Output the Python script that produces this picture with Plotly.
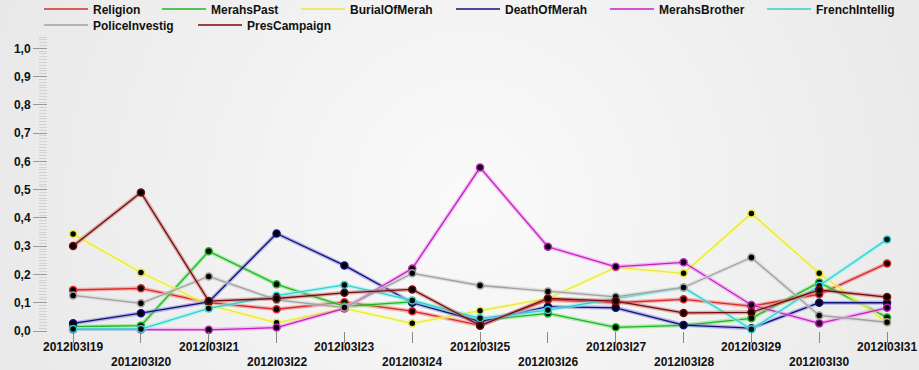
import plotly.graph_objects as go
import urllib.parse

dates = ["2012I03I19", "2012I03I20", "2012I03I21", "2012I03I22", "2012I03I23",
         "2012I03I24", "2012I03I25", "2012I03I26", "2012I03I27", "2012I03I28",
         "2012I03I29", "2012I03I30", "2012I03I31"]

religion = [0.145, 0.151, 0.100, 0.077, 0.102, 0.070, 0.020, 0.110, 0.100, 0.112, 0.088, 0.130, 0.239]
merahs_past = [0.015, 0.019, 0.282, 0.165, 0.087, 0.103, 0.038, 0.062, 0.013, 0.020, 0.045, 0.172, 0.048]
burial_of_merah = [0.343, 0.207, 0.092, 0.029, 0.080, 0.027, 0.072, 0.115, 0.225, 0.204, 0.416, 0.204, 0.030]
death_of_merah = [0.027, 0.063, 0.103, 0.345, 0.232, 0.100, 0.033, 0.086, 0.082, 0.021, 0.010, 0.100, 0.100]
merahs_brother = [0.005, 0.005, 0.004, 0.012, 0.080, 0.221, 0.578, 0.298, 0.227, 0.243, 0.092, 0.027, 0.082]
french_intellig = [0.007, 0.007, 0.080, 0.125, 0.163, 0.108, 0.045, 0.074, 0.115, 0.154, 0.006, 0.160, 0.324]
police_investig = [0.126, 0.098, 0.193, 0.110, 0.083, 0.204, 0.161, 0.140, 0.121, 0.154, 0.260, 0.055, 0.031]
pres_campaign = [0.301, 0.490, 0.106, 0.115, 0.135, 0.147, 0.019, 0.115, 0.106, 0.064, 0.066, 0.145, 0.120]

series = [
    ("Religion", religion, "#dc2828", "rgba(240,120,120,0.55)"),
    ("MerahsPast", merahs_past, "#22b422", "rgba(120,230,120,0.55)"),
    ("BurialOfMerah", burial_of_merah, "#e8e838", "rgba(250,250,150,0.6)"),
    ("DeathOfMerah", death_of_merah, "#10107a", "rgba(120,120,220,0.5)"),
    ("MerahsBrother", merahs_brother, "#c020c0", "rgba(240,140,240,0.55)"),
    ("FrenchIntellig", french_intellig, "#30d0d0", "rgba(150,240,240,0.6)"),
    ("PoliceInvestig", police_investig, "#a0a0a0", "rgba(210,210,210,0.6)"),
    ("PresCampaign", pres_campaign, "#7a0a0a", "rgba(190,110,110,0.5)"),
]

# legend entry text positions (left x of text, centre y of row), in pixels
legend_pos = [(93, 9), (211, 9), (350, 9), (505, 9), (659, 9), (816, 9), (93, 25), (247, 25)]

x_idx = list(range(len(dates)))
W, H = 919, 370
L, R, T, B = 48, 15, 37, 39
pw, ph = W - L - R, H - T - B

fig = go.Figure()
legend_layouts = {}
for k, (name, vals, col, halo) in enumerate(series):
    lname = "legend" if k == 0 else f"legend{k + 1}"
    fig.add_trace(go.Scatter(
        x=x_idx, y=vals, mode="lines", line=dict(color=halo, width=4),
        showlegend=False, hoverinfo="skip", cliponaxis=False))
    fig.add_trace(go.Scatter(
        x=x_idx, y=vals, name=name, mode="lines+markers",
        line=dict(color=col, width=1.3),
        marker=dict(color="black", size=7, line=dict(color=col, width=1.5)),
        showlegend=False, cliponaxis=False))
    fig.add_trace(go.Scatter(
        x=[None], y=[None], name=name, mode="lines",
        line=dict(color=col, width=1.5), showlegend=True, legend=lname))
    tx, ty = legend_pos[k]
    legend_layouts[lname] = dict(
        orientation="h", xref="container", yref="container",
        x=(tx - 54) / W, y=1 - ty / H, xanchor="left", yanchor="middle",
        bgcolor="rgba(0,0,0,0)", borderwidth=0,
        font=dict(size=12, weight="bold", color="#111111",
                  family="Liberation Sans, Arial, sans-serif"),
        itemwidth=44)

annotations = []
for i, d in enumerate(dates):
    row_y = 347 if i % 2 == 0 else 362
    annotations.append(dict(
        x=i, xref="x", y=-(row_y - (H - B)) / ph, yref="paper",
        text=d, showarrow=False, xanchor="center", yanchor="middle",
        font=dict(size=12, color="#111111", weight="bold",
                  family="Liberation Sans, Arial, sans-serif")))

svg = ('<svg xmlns="http://www.w3.org/2000/svg" width="919" height="370" '
       'viewBox="0 0 919 370" preserveAspectRatio="none">'
       '<defs><radialGradient id="g" gradientUnits="userSpaceOnUse" cx="470" cy="200" r="520">'
       '<stop offset="0" stop-color="#fafafa"/><stop offset="1" stop-color="#e8e8e8"/>'
       '</radialGradient></defs><rect x="0" y="0" width="919" height="370" fill="url(#g)"/></svg>')
src = "data:image/svg+xml;charset=utf-8," + urllib.parse.quote(svg)

fig.update_layout(
    width=W, height=H,
    margin=dict(l=L, r=R, t=T, b=B, autoexpand=False),
    paper_bgcolor="#eeeeee",
    plot_bgcolor="rgba(0,0,0,0)",
    separators=", ",
    font=dict(family="Liberation Sans, Arial, sans-serif", size=12, color="#111111", weight="bold"),
    annotations=annotations,
    images=[dict(source=src, xref="paper", yref="paper",
                 x=-L / pw, y=1 + T / ph, sizex=W / pw, sizey=H / ph,
                 xanchor="left", yanchor="top", sizing="stretch", layer="below")],
    xaxis=dict(range=[-0.37, 12.25], tickmode="array", tickvals=x_idx,
               showticklabels=False,
               showgrid=False, zeroline=False, showline=False,
               ticks="outside", ticklen=11, tickcolor="#888888", tickwidth=1),
    yaxis=dict(range=[0, 1.04], tickmode="linear", tick0=0, dtick=0.1, tickformat=".1f",
               showgrid=False, zeroline=False, showline=False,
               ticks="outside", ticklen=14, tickcolor="#999999", tickwidth=1,
               tickfont=dict(size=12, weight="bold"),
               minor=dict(dtick=0.01, ticks="outside", ticklen=8, tickcolor="#d2d2d2", tickwidth=1)),
    **legend_layouts,
)

fig.write_html("out.html", config={"displayModeBar": False},
               post_script="document.body.style.margin='0px';document.body.style.background='#eeeeee';")
